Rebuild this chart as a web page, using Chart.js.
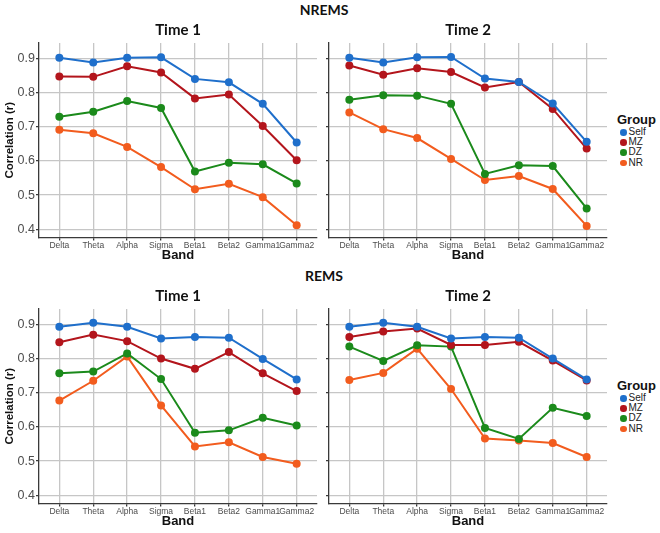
<!DOCTYPE html>
<html>
<head>
<meta charset="utf-8">
<script src="https://cdn.jsdelivr.net/npm/chart.js@4.4.1/dist/chart.umd.min.js"></script>
<style>
  body { margin: 0; width: 660px; height: 533px; background: #fff; position: relative; overflow: hidden; font-family: "Liberation Sans", Arial, sans-serif; }
  canvas { position: absolute; }
  .state { position: absolute; font: bold 14px Lato, sans-serif; color: #111; line-height: 16px; transform: translate(-50%, -50%); }
  .legend { position: absolute; left: 617px; color: #222; }
  .lg-title { font: bold 13px "Liberation Sans", Arial, sans-serif; line-height: 14px; color: #111; }
  .lg-item { font-size: 10px; line-height: 10.2px; padding-left: 3px; white-space: nowrap; }
  .dot { display: inline-block; width: 6.5px; height: 6.5px; border-radius: 50%; margin-right: 2px; vertical-align: -0.5px; }
</style>
</head>
<body>
<div class="state" style="left:324px; top:10px">NREMS</div>
<div class="state" style="left:324px; top:276px">REMS</div>
<canvas id="c1" width="322" height="242" style="left:0px; top:21px"></canvas>
<canvas id="c2" width="290" height="242" style="left:322px; top:21px"></canvas>
<canvas id="c3" width="322" height="242" style="left:0px; top:287px"></canvas>
<canvas id="c4" width="290" height="242" style="left:322px; top:287px"></canvas>
<div class="legend" id="legend1" style="top:113px"></div>
<div class="legend" id="legend2" style="top:379px"></div>
<script>
const bands = ['Delta', 'Theta', 'Alpha', 'Sigma', 'Beta1', 'Beta2', 'Gamma1', 'Gamma2'];
const groups = ['Self', 'MZ', 'DZ', 'NR'];
const groupColors = ['#1f6fcb', '#b3151c', '#1b8a1b', '#f25c1e'];
const yTicks = [0.4, 0.5, 0.6, 0.7, 0.8, 0.9];

// rows follow the order of groups: Self, MZ, DZ, NR
const nremsTime1 = [
  [0.902, 0.888, 0.902, 0.903, 0.840, 0.830, 0.767, 0.654],
  [0.847, 0.846, 0.877, 0.859, 0.783, 0.794, 0.702, 0.602],
  [0.729, 0.744, 0.775, 0.755, 0.569, 0.595, 0.590, 0.534],
  [0.691, 0.681, 0.641, 0.582, 0.517, 0.533, 0.494, 0.412]
];
const nremsTime2 = [
  [0.902, 0.888, 0.903, 0.904, 0.841, 0.831, 0.768, 0.656],
  [0.879, 0.852, 0.871, 0.860, 0.815, 0.831, 0.752, 0.636],
  [0.779, 0.792, 0.791, 0.767, 0.562, 0.587, 0.585, 0.461],
  [0.742, 0.693, 0.667, 0.606, 0.544, 0.556, 0.518, 0.410]
];
const remsTime1 = [
  [0.893, 0.905, 0.893, 0.859, 0.863, 0.861, 0.799, 0.739],
  [0.848, 0.870, 0.851, 0.800, 0.770, 0.819, 0.757, 0.705],
  [0.757, 0.762, 0.815, 0.740, 0.583, 0.590, 0.627, 0.604],
  [0.677, 0.735, 0.806, 0.663, 0.543, 0.555, 0.512, 0.492]
];
const remsTime2 = [
  [0.893, 0.905, 0.893, 0.859, 0.863, 0.861, 0.800, 0.739],
  [0.863, 0.879, 0.888, 0.840, 0.840, 0.849, 0.794, 0.736],
  [0.835, 0.793, 0.839, 0.835, 0.597, 0.565, 0.656, 0.632],
  [0.737, 0.758, 0.829, 0.711, 0.566, 0.560, 0.553, 0.512]
];

const gridColor = '#c6c6c6';
const axisColor = '#3a3a3a';

function makePanel(id, title, values, leftPanel) {
  return new Chart(document.getElementById(id), {
    type: 'line',
    data: {
      datasets: groups.map((g, k) => ({
        label: g,
        data: values[k].map((v, i) => ({ x: i, y: v })),
        borderColor: groupColors[k],
        backgroundColor: groupColors[k],
        borderWidth: 2,
        pointRadius: 4,
        pointBorderWidth: 0,
        tension: 0
      }))
    },
    options: {
      responsive: false,
      animation: false,
      events: [],
      layout: { padding: { right: 5 } },
      plugins: {
        legend: { display: false },
        tooltip: { enabled: false },
        title: {
          display: true,
          text: title,
          fullSize: false,
          color: '#111',
          font: { family: 'Lato', size: 15, weight: 'bold' },
          padding: { top: 0, bottom: 4 }
        }
      },
      scales: {
        x: {
          type: 'linear',
          min: -0.6,
          max: 7.6,
          afterBuildTicks: s => { s.ticks = bands.map((b, i) => ({ value: i })); },
          afterFit: s => { s.height = 25.5; },
          ticks: {
            callback: v => bands[v],
            autoSkip: false,
            maxRotation: 0,
            padding: 0,
            color: '#4d4d4d',
            font: { family: 'Liberation Sans', size: 8.5 }
          },
          grid: { color: gridColor, lineWidth: 1.3, tickLength: 3, tickColor: axisColor },
          border: { display: true, color: axisColor, width: 1.3 },
          title: {
            display: true,
            text: 'Band',
            color: '#111',
            padding: 0,
            font: { family: 'Liberation Sans', size: 13, weight: 'bold' }
          }
        },
        y: {
          min: 0.376,
          max: 0.945,
          afterBuildTicks: s => { s.ticks = yTicks.map(v => ({ value: v })); },
          afterFit: s => { s.width = leftPanel ? 39 : 7; },
          ticks: {
            display: leftPanel,
            callback: v => v.toFixed(1),
            padding: 1,
            color: '#4d4d4d',
            font: { family: 'Liberation Sans', size: 12.5 }
          },
          grid: { color: gridColor, lineWidth: 1.3, tickLength: 3, tickColor: axisColor },
          border: { display: true, color: axisColor, width: 1.3 },
          title: {
            display: leftPanel,
            text: 'Correlation (r)',
            color: '#111',
            padding: { top: 3, bottom: 0 },
            font: { family: 'Liberation Sans', size: 11.5, weight: 'bold' }
          }
        }
      }
    }
  });
}

function buildLegend(id) {
  document.getElementById(id).innerHTML =
    '<div class="lg-title">Group</div>' +
    groups.map((g, k) => `<div class="lg-item"><span class="dot" style="background:${groupColors[k]}"></span>${g}</div>`).join('');
}

makePanel('c1', 'Time 1', nremsTime1, true);
makePanel('c2', 'Time 2', nremsTime2, false);
makePanel('c3', 'Time 1', remsTime1, true);
makePanel('c4', 'Time 2', remsTime2, false);
buildLegend('legend1');
buildLegend('legend2');
</script>
</body>
</html>
